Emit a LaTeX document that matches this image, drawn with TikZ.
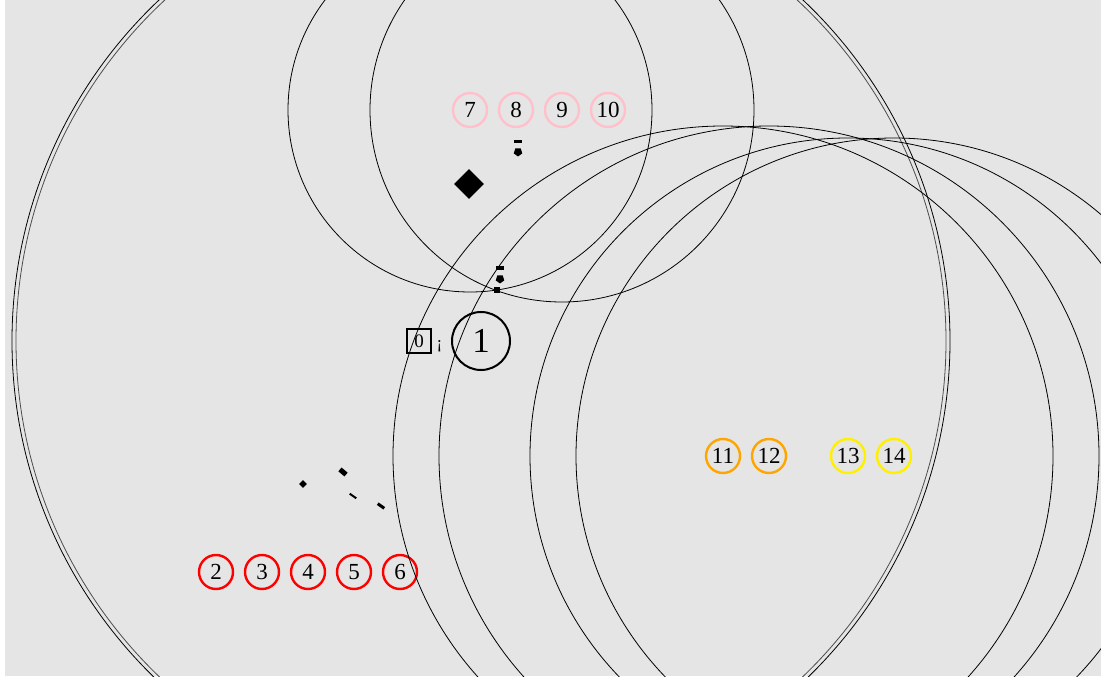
\documentclass[tikz,border=0pt]{standalone}
\usepackage{fontspec}
\setmainfont{Liberation Serif}
\usepackage{tikz}
\usetikzlibrary{positioning, shapes.geometric}

\definecolor{bggray}{RGB}{229,229,229}
\definecolor{pinkring}{RGB}{255,192,203}
\definecolor{orangering}{RGB}{255,165,0}
\definecolor{yellowring}{RGB}{255,240,0}

\begin{document}
\begin{tikzpicture}[
  x=1pt, y=-1pt,
  ring/.style={circle, draw, line width=2.4pt, minimum size=34pt, inner sep=0pt,
    font=\fontsize{23}{23}\selectfont},
  blot/.style={fill=black, inner sep=0pt},
  orbit/.style={draw=black, line width=0.8pt}
]
\useasboundingbox (0,0) rectangle (1101,679);
\fill[white] (0,0) rectangle (1101,679);
\fill[bggray] (5,0) rectangle (1101,676);

% ================= MAIN NODES =================
\node[rectangle, draw, line width=2pt, minimum size=24pt, inner sep=0pt,
  font=\fontsize{19}{19}\selectfont] (N0) at (419,341) {0};
\node[font=\fontsize{17}{17}\selectfont] (L0) [right=1pt of N0, yshift=-5pt] {¡};
\node[circle, draw, line width=2pt, minimum size=58pt, inner sep=0pt,
  font=\fontsize{35}{35}\selectfont] (N1) at (481,341) {1};

% ================= RED ROW =================
\node[ring, draw=red] (N2) at (216,572) {2};
\node[ring, draw=red] (N3) [right=9.6pt of N2] {3};
\node[ring, draw=red] (N4) [right=9.6pt of N3] {4};
\node[ring, draw=red] (N5) [right=9.6pt of N4] {5};
\node[ring, draw=red] (N6) [right=9.6pt of N5] {6};

% ================= PINK ROW =================
\node[ring, draw=pinkring] (N7)  at (470,110) {7};
\node[ring, draw=pinkring] (N8)  [right=9.6pt of N7] {8};
\node[ring, draw=pinkring] (N9)  [right=9.6pt of N8] {9};
\node[ring, draw=pinkring] (N10) [right=9.6pt of N9] {10};

% ================= ORANGE / YELLOW =================
\node[ring, draw=orangering] (N11) at (723,456) {11};
\node[ring, draw=orangering] (N12) [right=9.6pt of N11] {12};
\node[ring, draw=yellowring] (N13) at (848,456) {13};
\node[ring, draw=yellowring] (N14) [right=9.6pt of N13] {14};

% ================= SMALL MARKS =================
\node[blot, diamond, minimum size=30pt] (D1) at (469,184) {};
\node[blot, rectangle, minimum width=8pt, minimum height=3pt] (M1) at (518,142) {};
\node[blot, regular polygon, regular polygon sides=5, shape border rotate=180,
  minimum size=9pt] (M2) at (518,152) {};
\node[blot, rectangle, minimum width=8pt, minimum height=4pt] (M3) at (500,268) {};
\node[blot, regular polygon, regular polygon sides=5, shape border rotate=180,
  minimum size=9pt] (M4) at (500,279) {};
\node[blot, rectangle, minimum size=6pt] (M5) at (497,290) {};
\node[blot, diamond, minimum size=8pt] (M6) at (303,484) {};
\node[blot, rectangle, minimum width=8pt, minimum height=5pt, rotate=-40] (M7) at (343,472) {};
\node[blot, rectangle, minimum width=8pt, minimum height=2pt, rotate=-35] (M8) at (353,496) {};
\node[blot, rectangle, minimum width=8pt, minimum height=3pt, rotate=-35] (M9) at (381,506) {};

% ================= ORBITS =================
\begin{scope}
\clip (5,0) rectangle (1101,676);
\draw[orbit] (N1) circle[radius=469];
\draw[orbit, draw=black!70] (N1) circle[radius=465];
\draw[orbit] (N7) circle[radius=182];
\draw[orbit] (N9) circle[radius=192];
\draw[orbit] (N11) circle[radius=330];
\draw[orbit] (N12) circle[radius=330];
\draw[orbit] (N13) circle[radius=318];
\draw[orbit] (N14) circle[radius=318];
\end{scope}
\end{tikzpicture}
\end{document}
